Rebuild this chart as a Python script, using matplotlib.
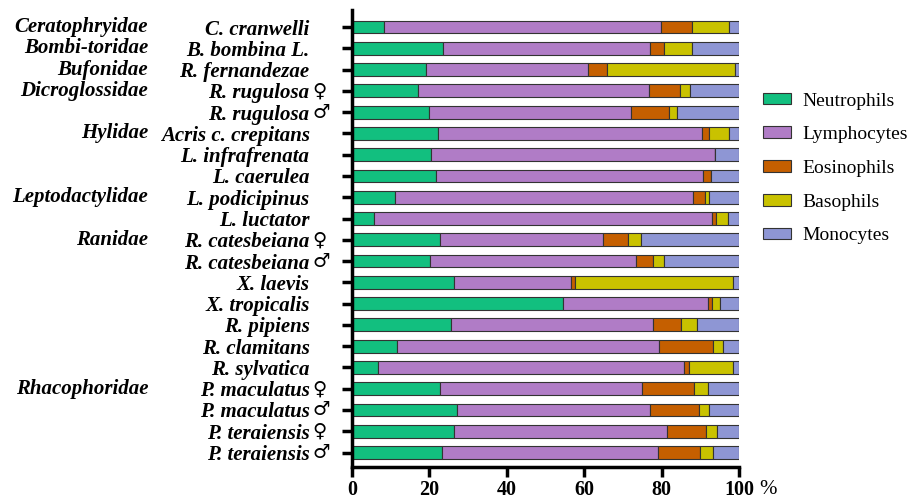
import matplotlib.pyplot as plt
import numpy as np
from matplotlib.patches import Patch
from matplotlib.transforms import blended_transform_factory

# species (top to bottom) and stacked percentages
species = ['C. cranwelli', 'B. bombina L.', 'R. fernandezae', 'R. rugulosa \u2640', 'R. rugulosa \u2642',
           'Acris c. crepitans', 'L. infrafrenata', 'L. caerulea', 'L. podicipinus', 'L. luctator',
           'R. catesbeiana \u2640', 'R. catesbeiana \u2642', 'X. laevis', 'X. tropicalis', 'R. pipiens',
           'R. clamitans', 'R. sylvatica', 'P. maculatus \u2640', 'P. maculatus \u2642',
           'P. teraiensis \u2640', 'P. teraiensis \u2642']

neutrophils = [8.2, 23.4, 19.0, 17.0, 20.0, 22.1, 20.5, 21.6, 11.2, 5.6, 22.7,
               20.2, 26.3, 54.5, 25.5, 11.7, 6.7, 22.7, 27.1, 26.4, 23.2]
lymphocytes = [71.6, 53.6, 42.0, 59.8, 52.0, 68.4, 73.2, 69.2, 77.0, 87.3, 42.1,
               53.1, 30.2, 37.4, 52.3, 67.6, 79.0, 52.3, 50.0, 55.1, 55.8]
eosinophils = [8.1, 3.7, 5.0, 7.9, 10.0, 1.7, 0.0, 1.9, 3.0, 1.1, 6.4,
               4.5, 1.2, 1.0, 7.1, 13.9, 1.5, 13.4, 12.6, 10.0, 10.9]
basophils = [9.6, 7.2, 33.0, 2.6, 2.0, 5.1, 0.0, 0.0, 1.0, 3.1, 3.5,
             2.9, 40.7, 2.2, 4.3, 2.6, 11.2, 3.7, 2.5, 2.7, 3.5]
monocytes = [2.5, 12.1, 1.0, 12.7, 16.0, 2.7, 6.3, 7.3, 7.8, 2.9, 25.3,
             19.3, 1.6, 4.9, 10.8, 4.2, 1.6, 7.9, 7.8, 5.8, 6.6]

cells = ['Neutrophils', 'Lymphocytes', 'Eosinophils', 'Basophils', 'Monocytes']
colors = ['#12bf7f', '#b07cc6', '#c55f00', '#c9c200', '#8e96d4']

families = ['Ceratophryidae', 'Bombi-toridae', 'Bufonidae', 'Dicroglossidae', 'Hylidae',
            'Leptodactylidae', 'Ranidae', 'Rhacophoridae']
family_rows = [0, 1, 2, 3, 5, 8, 10, 17]

serif = ['Liberation Serif', 'DejaVu Sans']

fig = plt.figure(figsize=(9.15, 5.01), dpi=100)
ax = fig.add_axes([352 / 915, 34 / 501, 387 / 915, 457 / 501])

y = np.arange(len(species))
left = np.zeros(len(species))
for vals, name, c in zip([neutrophils, lymphocytes, eosinophils, basophils, monocytes], cells, colors):
    vals = np.array(vals)
    ax.barh(y, vals, left=left, height=0.6, color=c, edgecolor='#333333', linewidth=0.8, label=name)
    left += vals

ax.set_xlim(0, 100)
ax.set_ylim(len(species) - 1 + 0.68, -0.8)
ax.set_xticks([0, 20, 40, 60, 80, 100])
ax.set_yticks(y)

# names right-aligned, sex symbols hanging to the right of them
names = [s.rstrip(' \u2640\u2642') for s in species]
ax.set_yticklabels(names, fontstyle='italic', fontweight='bold', fontsize=15, family=serif)
tr = blended_transform_factory(ax.transAxes, ax.transData)
for i, s in enumerate(species):
    if s[-1] in '\u2640\u2642':
        ax.text(-0.102, i, s[-1], transform=tr, ha='left', va='center', fontsize=14,
                fontweight='bold', family='DejaVu Sans')

for lab in ax.get_xticklabels():
    lab.set_fontweight('bold')
    lab.set_fontsize(14.5)
    lab.set_family(serif)

for s in ['top', 'right']:
    ax.spines[s].set_visible(False)
for s in ['left', 'bottom']:
    ax.spines[s].set_linewidth(2.5)
ax.tick_params(axis='both', width=2.5, length=7.5, direction='out')
ax.tick_params(axis='y', pad=23)
ax.tick_params(axis='x', pad=2)

# family names in a column to the left
for fam, r in zip(families, family_rows):
    ax.text(-0.527, r, fam, transform=tr, ha='right', va='center', fontsize=15,
            fontstyle='italic', fontweight='bold', family=serif)

fig.text(759 / 915, 1 - 490 / 501, '%', fontsize=15, family=serif, va='center', ha='left')

handles = [Patch(facecolor=c, edgecolor='#333333', linewidth=0.8) for c in colors]
fig.legend(handles, cells, loc='upper left', bbox_to_anchor=(745 / 915, 1 - 75 / 501),
           frameon=False, prop={'family': serif, 'size': 14}, handlelength=1.45,
           handleheight=0.55, labelspacing=0.86, handletextpad=0.6)

fig.savefig('out.png', dpi=100)
